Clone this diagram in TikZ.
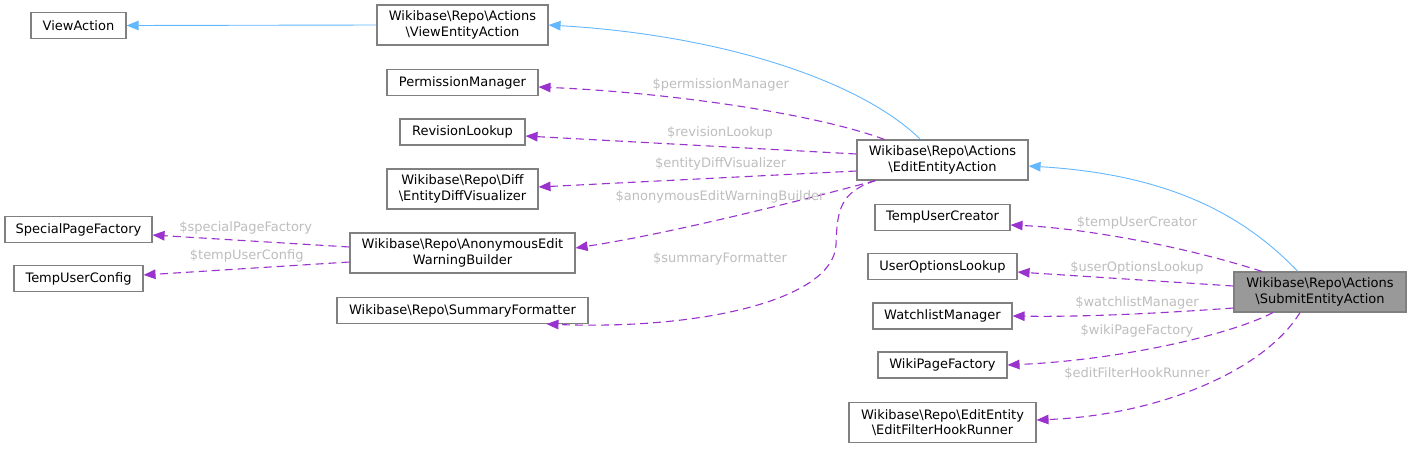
\documentclass[tikz,border=0pt]{standalone}
\usepackage{fontspec}
\setmainfont{DejaVu Sans}
\usepackage{tikz}
\usetikzlibrary{arrows.meta}
\definecolor{boxline}{HTML}{808080}
\definecolor{inhblue}{HTML}{63B8FF}
\definecolor{usepurple}{HTML}{9A32CD}
\definecolor{lblgrey}{HTML}{BEBEBE}
\definecolor{curfill}{HTML}{999999}
\newcommand{\bsl}{\textbackslash}

\begin{document}
\begin{tikzpicture}[x=1pt,y=-1pt,
    klass/.style={draw=boxline, line width=1.1pt, inner sep=0pt,
        minimum height=26pt, align=center,
        font=\fontsize{13}{15.3}\selectfont},
    tall/.style={minimum height=40pt},
    extends/.style={inhblue, line width=0.9pt,
        -{Triangle[length=12pt,width=9.5pt]}},
    uses/.style={usepurple, line width=1.1pt, dash pattern=on 8pt off 5pt,
        -{Triangle[length=12pt,width=9.5pt]}},
    member/.style={text=lblgrey, inner sep=0pt,
        font=\fontsize{13}{15.3}\selectfont}]
    \useasboundingbox[fill=white] (0,0) rectangle (1411,448);

    % left columns
    \node[klass, minimum width=95pt] (viewaction) at (78.5,25.5) {ViewAction};
    \node[klass, minimum width=147pt] (special) at (78.5,229.5) {SpecialPageFactory};
    \node[klass, minimum width=129pt] (tempconfig) at (78.5,278.5) {TempUserConfig};

    \node[klass, tall, minimum width=171pt] (viewentity) at (462.5,25)
        {Wikibase\bsl Repo\bsl Actions\\\bsl ViewEntityAction};
    \node[klass, minimum width=151pt] (permission) at (462.5,82.5) {PermissionManager};
    \node[klass, minimum width=125pt] (revision) at (462.5,132) {RevisionLookup};
    \node[klass, tall, minimum width=151pt] (entitydiff) at (462.5,189)
        {Wikibase\bsl Repo\bsl Diff\\\bsl EntityDiffVisualizer};
    \node[klass, tall, minimum width=225pt] (anon) at (462.5,253)
        {Wikibase\bsl Repo\bsl AnonymousEdit\\WarningBuilder};
    \node[klass, minimum width=251pt] (summary) at (462.5,310.5)
        {Wikibase\bsl Repo\bsl SummaryFormatter};

    % middle column
    \node[klass, tall, minimum width=171pt] (edit) at (942.5,160)
        {Wikibase\bsl Repo\bsl Actions\\\bsl EditEntityAction};
    \node[klass, minimum width=135pt] (tempcreator) at (942.5,217.5) {TempUserCreator};
    \node[klass, minimum width=149pt] (useroptions) at (942.5,266.5) {UserOptionsLookup};
    \node[klass, minimum width=139pt] (watchlist) at (942.5,316) {WatchlistManager};
    \node[klass, minimum width=129pt] (wikipage) at (942.5,365) {WikiPageFactory};
    \node[klass, tall, minimum width=187pt] (hookrunner) at (942.5,422.5)
        {Wikibase\bsl Repo\bsl EditEntity\\\bsl EditFilterHookRunner};

    \node[klass, tall, fill=curfill, minimum width=172pt] (submit) at (1320,292)
        {Wikibase\bsl Repo\bsl Actions\\\bsl SubmitEntityAction};

    % inheritance
    \draw[extends] (viewentity.west) -- (viewaction.east);
    \draw[extends] ([xshift=-22pt]edit.north) .. controls (860,80) and (720,35) .. (viewentity.east);
    \draw[extends] ([xshift=-22pt]submit.north) .. controls (1250,222) and (1180,175) .. ([yshift=-6pt]edit.east);

    % members of EditEntityAction
    \draw[uses] ([xshift=-58pt]edit.north) .. controls (810,112) and (660,92) .. ([yshift=-4.5pt]permission.east);
    \draw[uses] ([yshift=6pt]edit.west) -- ([yshift=-4pt]revision.east);
    \draw[uses] ([yshift=-11pt]edit.west) -- ([yshift=2pt]entitydiff.east);
    \draw[uses] ([xshift=-67pt]edit.south) .. controls (830,193) and (680,232) .. ([yshift=5pt]anon.east);
    \draw[uses] ([xshift=-67pt]edit.south) .. controls (840,192) and (837,210) .. (836,245)
        .. controls (833,300) and (700,330) .. ([xshift=84pt]summary.south);
    \draw[uses] ([yshift=6pt]anon.west) -- ([yshift=-5.5pt]special.east);
    \draw[uses] ([yshift=-9pt]anon.west) -- ([yshift=3.5pt]tempconfig.east);

    % members of SubmitEntityAction
    \draw[uses] ([xshift=-58pt]submit.north) .. controls (1180,245) and (1080,228) .. ([yshift=-7.5pt]tempcreator.east);
    \draw[uses] ([yshift=6pt]submit.west) -- ([yshift=-5.5pt]useroptions.east);
    \draw[uses] ([yshift=-16pt]submit.west) .. controls (1150,314) and (1080,317) .. (watchlist.east);
    \draw[uses] ([xshift=-47pt]submit.south) .. controls (1230,335) and (1120,360) .. (wikipage.east);
    \draw[uses] ([xshift=-20pt]submit.south) .. controls (1265,370) and (1160,415) .. ([yshift=2.5pt]hookrunner.east);

    % labels
    \node[member] (lpermission) at (720.7,85) {\$permissionManager};
    \node[member] (lrevision) at (720,132.7) {\$revisionLookup};
    \node[member] (lentitydiff) at (720.7,164.3) {\$entityDiffVisualizer};
    \node[member] (lanon) at (720,196.7) {\$anonymousEditWarningBuilder};
    \node[member] (lsummary) at (720,259) {\$summaryFormatter};
    \node[member] (lspecial) at (245.7,228.3) {\$specialPageFactory};
    \node[member] (ltempconfig) at (246.7,255.7) {\$tempUserConfig};
    \node[member] (ltempcreator) at (1137,222.7) {\$tempUserCreator};
    \node[member] (luseroptions) at (1137,267.7) {\$userOptionsLookup};
    \node[member] (lwatchlist) at (1137,302.7) {\$watchlistManager};
    \node[member] (lwikipage) at (1137,331) {\$wikiPageFactory};
    \node[member] (lhookrunner) at (1137,374) {\$editFilterHookRunner};
\end{tikzpicture}
\end{document}
